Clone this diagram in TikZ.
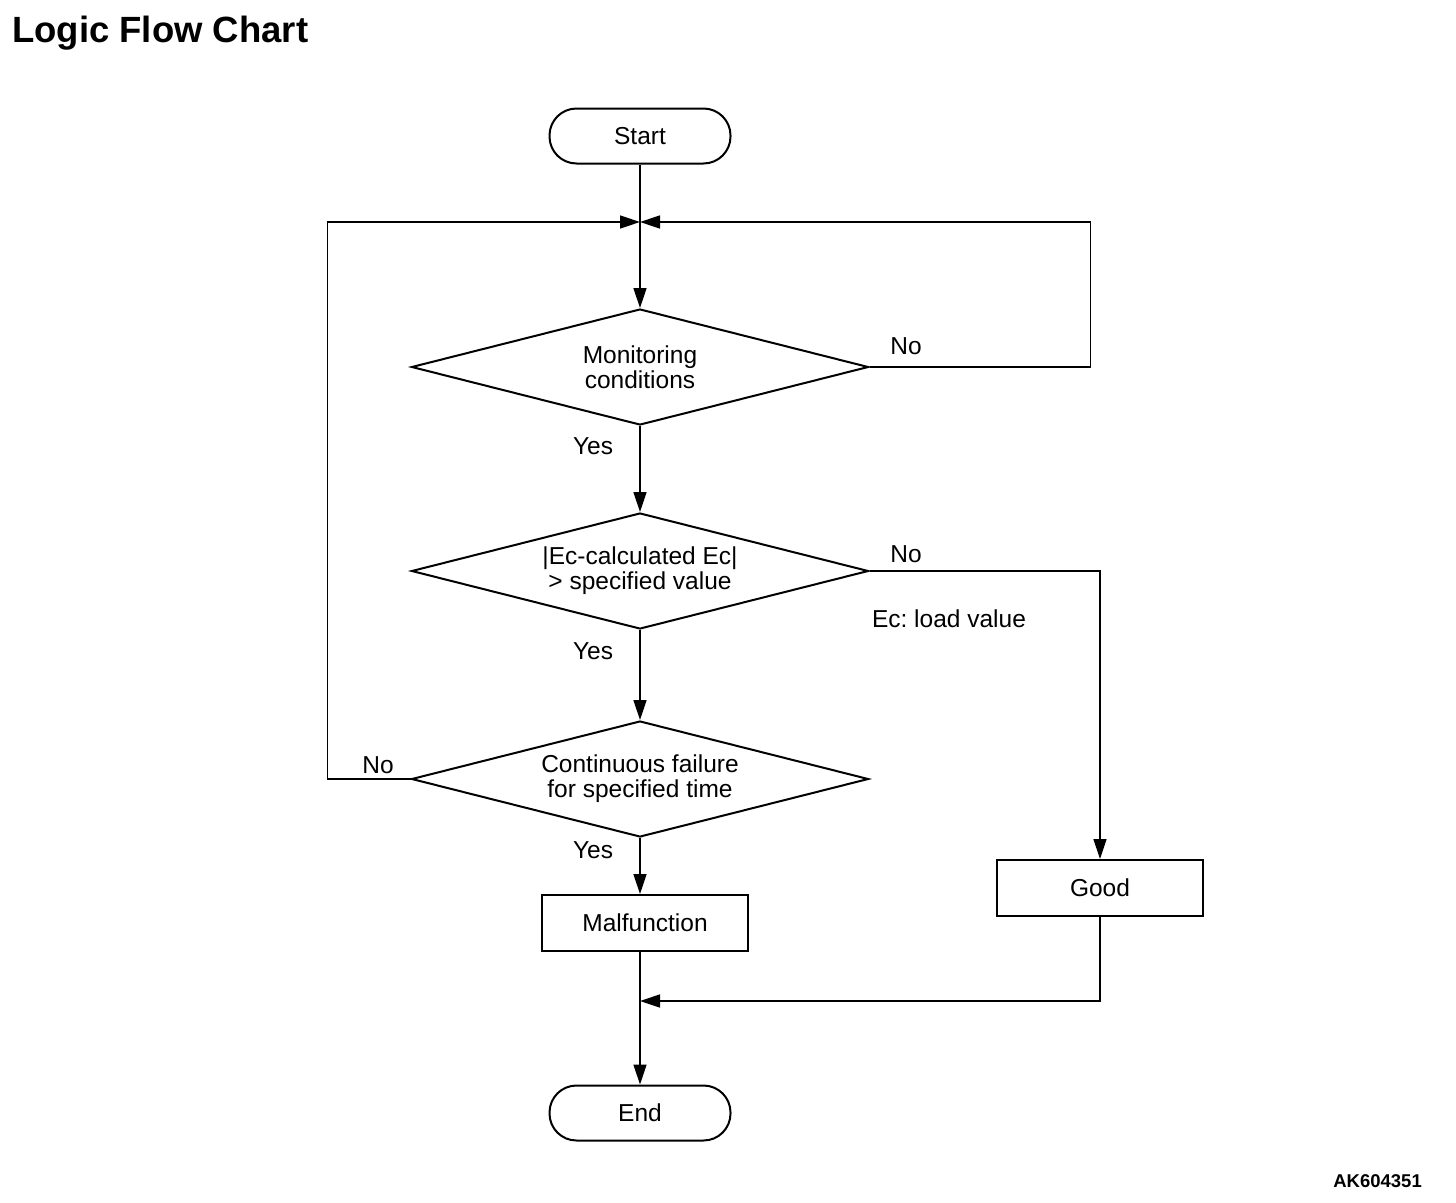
\documentclass[tikz,border=0pt]{standalone}
\usepackage{fontspec}
\setmainfont{Liberation Sans}
\usetikzlibrary{shapes.geometric,arrows.meta}
\frenchspacing
\begin{document}
\begin{tikzpicture}[x=1pt,y=-1pt,
  txt/.style={font=\fontsize{24.5}{25}\selectfont, inner sep=0pt, align=center},
  term/.style={txt, draw, line width=2pt, rounded corners=27pt, minimum width=181pt, minimum height=55pt},
  proc/.style={txt, draw, line width=2pt, minimum width=206pt, minimum height=56pt},
  dec/.style={txt, draw, line width=2pt, diamond, aspect=3.94, minimum width=457pt, minimum height=116pt},
  lbl/.style={txt},
  arr/.style={line width=1.5pt, -{Triangle[length=20pt,width=13pt]}},
  ln/.style={line width=1.5pt}]
\useasboundingbox (0,0) rectangle (1456,1202);
\node[anchor=west, inner sep=0pt, font=\fontsize{36.5}{38}\selectfont\bfseries] (title) at (12,33) {Logic Flow Chart};
\node[anchor=east, inner sep=0pt, font=\fontsize{18.5}{20}\selectfont\bfseries] (code) at (1422,1181) {AK604351};
\node[term] (start) at (640,136) {Start};
\node[dec] (d1) at (640,367) {Monitoring\\conditions};
\node[dec] (d2) at (640,571) {|Ec-calculated Ec|\\> specified value};
\node[dec] (d3) at (640,779) {Continuous failure\\for specified time};
\node[proc] (mal) at (645,923) {Malfunction};
\node[proc] (good) at (1100,888) {Good};
\node[term] (end) at (640,1113) {End};
\coordinate (m) at (640,222);
\coordinate (j) at (640,1001);
\node[lbl] (no1) at (906,346) {No};
\node[lbl] (yes1) at (593,446) {Yes};
\node[lbl] (no2) at (906,554) {No};
\node[lbl] (ec) at (949,619) {Ec: load value};
\node[lbl] (yes2) at (593,651) {Yes};
\node[lbl] (no3) at (378,765) {No};
\node[lbl] (yes3) at (593,850) {Yes};
\draw[arr] (start) -- (d1.north);
\draw[arr] (d1.east) -- ++(221,0) |- (m);
\draw[arr] (d3.west) -- ++(-83,0) |- (m);
\draw[arr] (d1.south) -- (d2.north);
\draw[arr] (d2.south) -- (d3.north);
\draw[arr] (d3.south) -- (d3.south |- mal.north);
\draw[arr] (d2.east) -| (good.north);
\draw[arr] (good.south) |- (j);
\draw[arr] (mal.south -| end.north) -- (end.north);
\end{tikzpicture}
\end{document}
